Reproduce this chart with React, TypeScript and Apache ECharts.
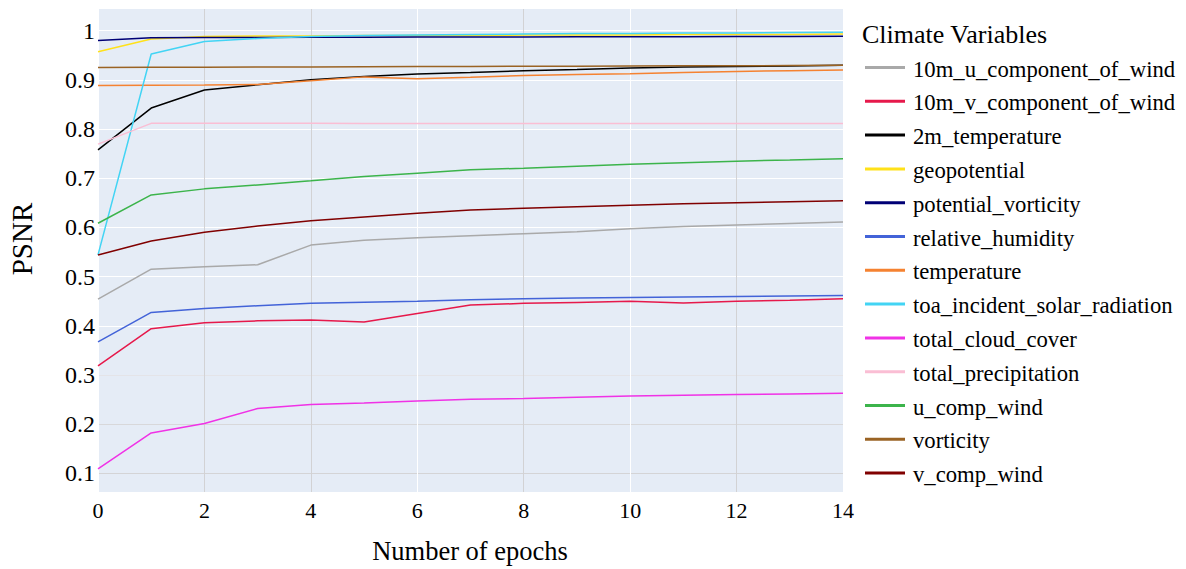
import React, { useEffect, useRef } from "react";
import * as echarts from "echarts";

const epochs = [0, 1, 2, 3, 4, 5, 6, 7, 8, 9, 10, 11, 12, 13, 14];
const yTicks = [0.1, 0.2, 0.3, 0.4, 0.5, 0.6, 0.7, 0.8, 0.9, 1];
const xTicks = [0, 2, 4, 6, 8, 10, 12, 14];

const names = [
  "10m_u_component_of_wind",
  "10m_v_component_of_wind",
  "2m_temperature",
  "geopotential",
  "potential_vorticity",
  "relative_humidity",
  "temperature",
  "toa_incident_solar_radiation",
  "total_cloud_cover",
  "total_precipitation",
  "u_comp_wind",
  "vorticity",
  "v_comp_wind",
];
const colors = [
  "#a9a9a9", "#e6194b", "#000000", "#ffe119", "#000075", "#4363d8",
  "#f58231", "#42d4f4", "#f032e6", "#fabed4", "#3cb44b", "#9a6324", "#800000",
];

const u10 = [0.454, 0.515, 0.52, 0.524, 0.564, 0.574, 0.579, 0.583, 0.587, 0.591, 0.597, 0.602, 0.605, 0.608, 0.611];
const v10 = [0.3185, 0.394, 0.406, 0.41, 0.4115, 0.4075, 0.425, 0.442, 0.4455, 0.4475, 0.4496, 0.4461, 0.4496, 0.452, 0.455];
const t2m = [0.7577, 0.8426, 0.8792, 0.89, 0.9002, 0.907, 0.9118, 0.915, 0.9185, 0.921, 0.924, 0.926, 0.9273, 0.928, 0.9294];
const geopotential = [0.957, 0.983, 0.988, 0.989, 0.989, 0.99, 0.99, 0.99, 0.991, 0.991, 0.991, 0.992, 0.992, 0.992, 0.993];
const potVort = [0.98, 0.9857, 0.986, 0.9862, 0.9865, 0.9867, 0.9869, 0.987, 0.9872, 0.9874, 0.9876, 0.9878, 0.988, 0.9882, 0.9884];
const relHum = [0.3674, 0.4271, 0.4353, 0.4407, 0.4455, 0.448, 0.45, 0.4529, 0.4549, 0.4563, 0.4576, 0.4587, 0.4597, 0.4607, 0.4617];
const temperature = [0.8887, 0.889, 0.8894, 0.8905, 0.898, 0.906, 0.9023, 0.905, 0.909, 0.911, 0.9124, 0.915, 0.917, 0.9185, 0.92];
const toa = [0.544, 0.9525, 0.978, 0.984, 0.988, 0.99, 0.991, 0.992, 0.993, 0.994, 0.994, 0.995, 0.995, 0.996, 0.9966];
const tcc = [0.1088, 0.182, 0.2011, 0.2317, 0.2398, 0.2432, 0.2472, 0.2507, 0.252, 0.2547, 0.2574, 0.2588, 0.2602, 0.2615, 0.2629];
const tp = [0.7693, 0.8115, 0.8115, 0.8115, 0.8115, 0.8114, 0.8114, 0.8114, 0.8113, 0.8113, 0.8113, 0.8112, 0.8112, 0.8112, 0.8112];
const uComp = [0.6084, 0.666, 0.6783, 0.6864, 0.6946, 0.7034, 0.7102, 0.717, 0.7204, 0.7245, 0.7285, 0.7316, 0.7347, 0.737, 0.7394];
const vorticity = [0.9253, 0.9255, 0.9258, 0.926, 0.9263, 0.9266, 0.9269, 0.9272, 0.9275, 0.9278, 0.9281, 0.9284, 0.9287, 0.929, 0.9294];
const vComp = [0.5439, 0.5724, 0.59, 0.6029, 0.6137, 0.6213, 0.6287, 0.6355, 0.639, 0.642, 0.645, 0.648, 0.65, 0.652, 0.654];

const seriesValues = [u10, v10, t2m, geopotential, potVort, relHum, temperature, toa, tcc, tp, uComp, vorticity, vComp];

const FONT = "Liberation Serif";

export default function App() {
  const ref = useRef<HTMLDivElement>(null);
  useEffect(() => {
    if (!ref.current) return;
    const chart = echarts.init(ref.current, null, { renderer: "svg" });
    const legendItems: any[] = [];
    names.forEach((n, i) => {
      const y = 67.5 + i * 33.8;
      legendItems.push({
        type: "line",
        shape: { x1: 865, y1: y, x2: 905, y2: y },
        style: { stroke: colors[i], lineWidth: 3 },
        silent: true,
      });
      legendItems.push({
        type: "text",
        x: 913,
        y: y + 1.5,
        style: { text: n, fontSize: 22.7, fontFamily: FONT, fill: "#000", verticalAlign: "middle", align: "left" },
      });
    });
    chart.setOption({
      animation: false,
      backgroundColor: "#ffffff",
      textStyle: { fontFamily: FONT },
      grid: { left: 98, right: 343, top: 9, bottom: 77, show: true, backgroundColor: "#E5ECF6", borderWidth: 0 },
      xAxis: {
        type: "value",
        min: 0,
        max: 14,
        interval: 2,
        axisLine: { show: false },
        axisTick: { show: false },
        axisLabel: { fontSize: 22, color: "#000", margin: 7, fontFamily: FONT, customValues: xTicks },
        splitLine: {
          show: true,
          lineStyle: {
            width: 1,
            color: ["#ffffff", "#d2d2d4", "#d2d2d4", "#ffffff", "#d2d2d4", "#ffffff", "#d2d2d4", "#ffffff"],
          },
        },
      },
      yAxis: {
        type: "value",
        min: 0.062,
        max: 1.044,
        axisLine: { show: false },
        axisTick: { show: false, customValues: yTicks },
        axisLabel: { fontSize: 24, color: "#000", margin: 3, fontFamily: FONT, customValues: yTicks },
        splitLine: {
          show: true,
          lineStyle: {
            width: 1,
            color: ["#d4d4d6", "#d8d8da", "#e4e4e8", "#ffffff", "#ffffff", "#ffffff", "#ffffff", "#ffffff", "#ffffff", "#ffffff"],
          },
        },
      },
      graphic: [
        {
          type: "text",
          left: 862,
          top: 21,
          style: { text: "Climate Variables", fontSize: 26, fontFamily: FONT, fill: "#000" },
        },
        ...legendItems,
        {
          type: "text",
          x: 470,
          y: 551,
          style: { text: "Number of epochs", fontSize: 26.5, fontFamily: FONT, fill: "#000", align: "center", verticalAlign: "middle" },
        },
        {
          type: "text",
          x: 22,
          y: 239,
          rotation: Math.PI / 2,
          style: { text: "PSNR", fontSize: 29, fontFamily: FONT, fill: "#000", align: "center", verticalAlign: "middle" },
        },
      ],
      series: names.map((n, i) => ({
        name: n,
        type: "line",
        data: epochs.map((e, j) => [e, seriesValues[i][j]]),
        symbol: "none",
        lineStyle: { width: 1.5, color: colors[i] },
        itemStyle: { color: colors[i] },
      })),
    });
    return () => chart.dispose();
  }, []);
  return <div ref={ref} style={{ width: 1186, height: 569, position: "absolute", left: 0, top: 0 }} />;
}
